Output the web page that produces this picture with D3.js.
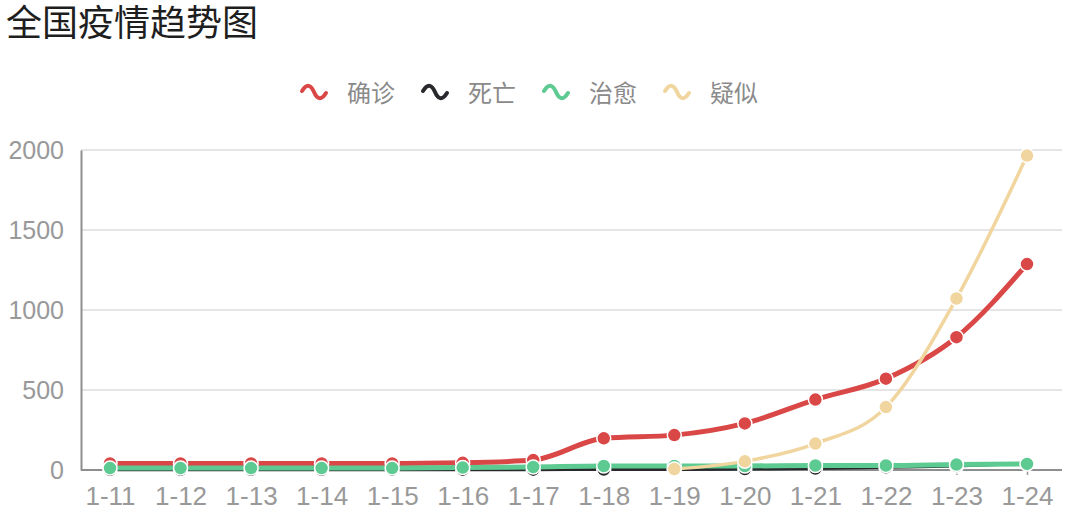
<!DOCTYPE html>
<html>
<head>
<meta charset="utf-8">
<script src="https://cdn.jsdelivr.net/npm/d3@7"></script>
<style>
  body { margin: 0; background: #fff; }
  svg text { font-family: "Liberation Sans", "Noto Sans CJK SC", sans-serif; }
</style>
</head>
<body>
<script>
// data
var dates = ["1-11","1-12","1-13","1-14","1-15","1-16","1-17","1-18","1-19","1-20","1-21","1-22","1-23","1-24"];
var confirmed = [41,41,41,41,41,45,62,198,218,291,440,571,830,1287];
var deaths    = [1,1,1,1,2,2,2,3,3,6,9,17,25,41];
var cured     = [12,12,12,12,12,15,19,25,25,25,28,28,34,38];
var suspected = [null,null,null,null,null,null,null,null,6,54,165,393,1072,1965];
var yTicks = [0,500,1000,1500,2000];

var seriesNames  = ["确诊","死亡","治愈","疑似"];
var seriesColors = ["#d94747","#28292d","#5dca91","#f1d59f"];
var seriesWidths = [5,3,5,3.5];
var seriesData   = [confirmed, deaths, cured, suspected];

var W = 1080, H = 515;
var plotLeft = 81, plotRight = 1062, plotTop = 150, plotBottom = 470;

var svg = d3.select("body").append("svg")
  .attr("width", W)
  .attr("height", H);

// title
svg.append("text")
  .attr("x", 6).attr("y", 36)
  .style("font-size", "36px")
  .style("font-family", "'Noto Sans CJK SC', sans-serif")
  .attr("fill", "#1e1e1e")
  .text("全国疫情趋势图");

var x = d3.scalePoint().domain(dates).range([plotLeft + 29, plotRight - 35]);
var y = d3.scaleLinear().domain([0, 2000]).range([plotBottom, plotTop]);

// grid lines
svg.append("g").selectAll("line")
  .data(yTicks.filter(function(d){ return d > 0; }))
  .enter().append("line")
  .attr("x1", plotLeft).attr("x2", plotRight)
  .attr("y1", function(d){ return y(d); })
  .attr("y2", function(d){ return y(d); })
  .attr("stroke", "#dcdcdc")
  .attr("stroke-width", 1.5);

// y axis
var yAxis = svg.append("g")
  .attr("transform", "translate(" + plotLeft + ",0)")
  .call(d3.axisLeft(y).tickValues(yTicks).tickFormat(d3.format("d")).tickSize(0).tickPadding(17));
yAxis.select(".domain").attr("stroke", "#8e8e8e").attr("stroke-width", 2);
yAxis.selectAll("text").style("font-size", "25px").attr("fill", "#999");

// x axis
var xAxis = svg.append("g")
  .attr("transform", "translate(0," + plotBottom + ")")
  .call(d3.axisBottom(x).tickSize(5).tickPadding(12));
xAxis.select(".domain").attr("d", "M" + plotLeft + ",0H" + plotRight).attr("stroke", "#8e8e8e").attr("stroke-width", 2);
xAxis.selectAll(".tick line").attr("stroke", "#999").attr("stroke-width", 1.5);
xAxis.selectAll("text").style("font-size", "26px").attr("fill", "#999");

// lines + markers
var line = d3.line()
  .defined(function(d){ return d[1] != null; })
  .x(function(d){ return x(d[0]); })
  .y(function(d){ return y(d[1]); })
  .curve(d3.curveMonotoneX);

seriesData.forEach(function(vals, i){
  var pts = dates.map(function(d, j){ return [d, vals[j]]; });
  var g = svg.append("g");
  g.append("path")
    .datum(pts)
    .attr("d", line)
    .attr("fill", "none")
    .attr("stroke", seriesColors[i])
    .attr("stroke-width", seriesWidths[i])
    .attr("stroke-linejoin", "round");
  g.selectAll("circle")
    .data(pts.filter(function(p){ return p[1] != null; }))
    .enter().append("circle")
    .attr("cx", function(p){ return x(p[0]); })
    .attr("cy", function(p){ return y(p[1]); })
    .attr("r", 7)
    .attr("fill", seriesColors[i])
    .attr("stroke", "#fff")
    .attr("stroke-width", 1.5);
});

// legend
var legend = svg.append("g");
var item = legend.selectAll("g")
  .data(seriesNames)
  .enter().append("g")
  .attr("transform", function(d, i){ return "translate(" + (300 + i * 121) + ",93)"; });
item.append("path")
  .attr("d", "M2,-2 C7,-10 11,-8 14,-1 C17,6 21,8 26,0")
  .attr("fill", "none")
  .attr("stroke", function(d, i){ return seriesColors[i]; })
  .attr("stroke-width", 4)
  .attr("stroke-linecap", "round");
item.append("text")
  .attr("x", 47).attr("y", 9)
  .style("font-size", "24px")
  .style("font-family", "'Noto Sans CJK SC', sans-serif")
  .attr("fill", "#8a8a8a")
  .text(function(d){ return d; });
</script>
</body>
</html>
